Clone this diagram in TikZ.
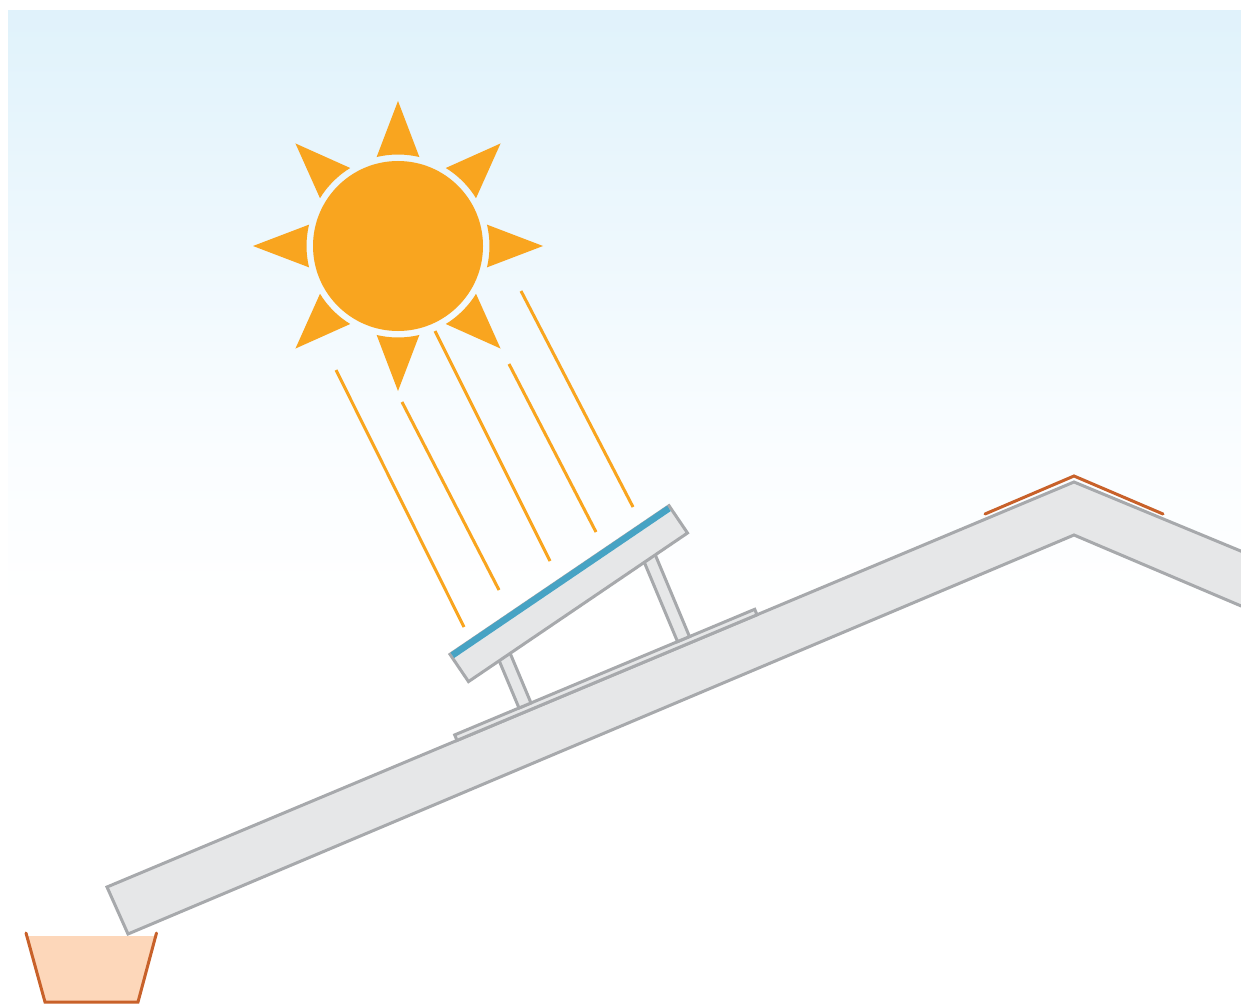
\documentclass[tikz,border=0pt]{standalone}
\usetikzlibrary{calc}
\definecolor{skyblue}{HTML}{E0F2FB}
\definecolor{skyfaint}{HTML}{FAFDFF}
\definecolor{sunorange}{HTML}{F9A51F}
\definecolor{edgegray}{HTML}{A7A9AC}
\definecolor{slabgray}{HTML}{E6E7E8}
\definecolor{cellblue}{HTML}{47A3C4}
\definecolor{rust}{HTML}{C8612A}
\definecolor{peach}{HTML}{FDD7BA}
\tikzset{
  beam/.style={draw=sunorange, line width=3pt},
  slab/.style={draw=edgegray, fill=slabgray, line width=3pt, line join=miter},
  flashing/.style={draw=rust, line width=3pt, line cap=round},
}
\begin{document}
\begin{tikzpicture}[x=1pt,y=-1pt]
\useasboundingbox (0,0) rectangle (1241,1003);
\clip (0,0) rectangle (1241,1003);

% sky, fading out towards the horizon
\shade[top color=skyblue, bottom color=skyfaint] (8,11) rectangle (1241,451);
\shade[top color=skyfaint, bottom color=white] (8,450) rectangle (1241,610);

% light beams
\draw[beam] (336,370) -- (464,627);
\draw[beam] (402,402) -- (499,590);
\draw[beam] (435,331) -- (550,561);
\draw[beam] (509,364) -- (596,532);
\draw[beam] (521,291) -- (633,507);

% sun
\begin{scope}[shift={(398,246)}, x=1pt, y=1pt]
  \fill[sunorange] (0,0) circle[radius=85];
  \foreach \a in {0,45,...,315}
    \fill[sunorange] (\a:145) -- (\a+13.5:91.5)
      arc[start angle=\a+13.5, end angle=\a-13.5, radius=91.5] -- cycle;
\end{scope}

% roof slab
\draw[slab] (107,887) -- (1074,482) -- (1260,559) -- (1260,614)
  -- (1074,535) -- (128,934) -- cycle;

% mounting rail
\draw[slab] (457,740.4) -- (454.7,734.9) -- (754.7,609.3) -- (757,614.8) -- cycle;

% posts
\draw[slab] (519,708) -- (531,703) -- (507.8,647.7) -- (495.8,652.7) -- cycle;
\draw[slab] (677.5,641.6) -- (689.5,636.6) -- (650.9,544.4) -- (638.9,549.4) -- cycle;

% panel
\draw[slab] (450,654.3) -- (669,505.7) -- (687.5,533) -- (468.5,681.6) -- cycle;
\draw[cellblue, line width=6.5pt] (452.4,655.3) -- (668.9,508.4);

% ridge cap
\draw[flashing] (985,514) -- (1074,476) -- (1163,514);

% gutter
\fill[peach] (28,936) -- (155,936) -- (137,1003) -- (45,1003) -- cycle;
\draw[flashing] (26,933) -- (45,1002) -- (138,1002) -- (156.5,933);
\end{tikzpicture}
\end{document}
